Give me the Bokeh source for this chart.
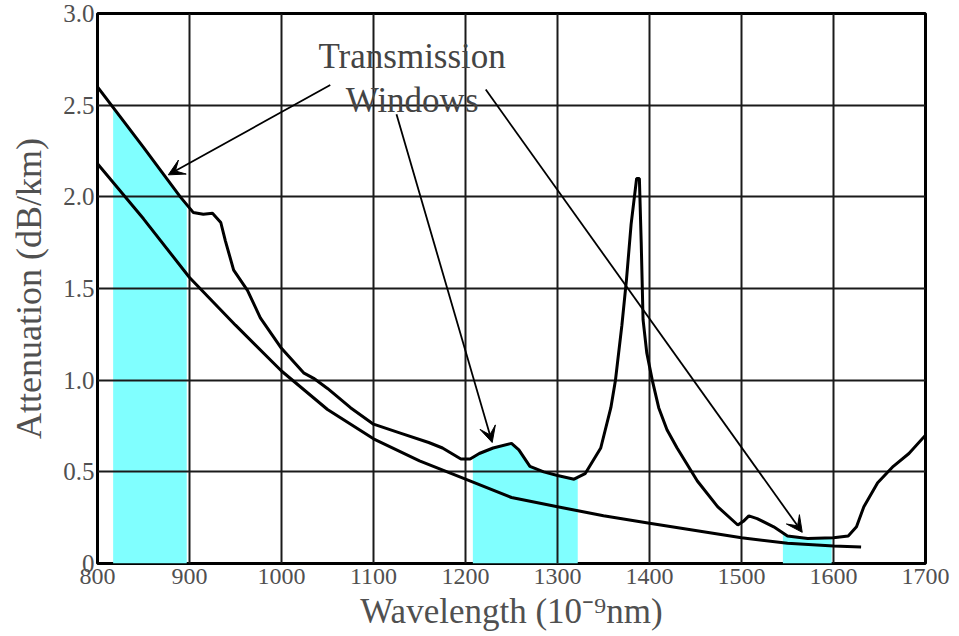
import numpy as np
from bokeh.plotting import figure
from bokeh.models import Range1d, FixedTicker, Arrow, VeeHead, ColumnDataSource
from bokeh.core.properties import value
from bokeh.embed import file_html
from bokeh.resources import INLINE

# ---- data ----
wl_measured = [800, 850, 870, 890, 904, 915, 925, 934, 939, 948, 963, 977, 999, 1024, 1035, 1050,
               1075, 1100, 1130, 1160, 1175, 1195, 1205, 1215, 1230, 1250, 1258, 1270, 1285, 1300,
               1318, 1330, 1347, 1358, 1363, 1370, 1375, 1380, 1386, 1389, 1391, 1393, 1397, 1403,
               1410, 1419, 1430, 1452, 1474, 1496, 1502, 1508, 1517, 1535, 1550, 1572, 1600, 1616,
               1625, 1633, 1648, 1665, 1682, 1700]
att_measured = [2.60, 2.27, 2.135, 2.0, 1.915, 1.905, 1.91, 1.86, 1.76, 1.60, 1.49, 1.34, 1.18, 1.04,
                1.01, 0.955, 0.85, 0.76, 0.71, 0.66, 0.63, 0.57, 0.57, 0.60, 0.63, 0.655, 0.62, 0.53,
                0.50, 0.48, 0.46, 0.49, 0.63, 0.85, 1.0, 1.3, 1.55, 1.85, 2.1, 2.1, 1.75, 1.33, 1.15,
                1.0, 0.85, 0.73, 0.63, 0.45, 0.31, 0.21, 0.23, 0.26, 0.245, 0.20, 0.15, 0.136, 0.14,
                0.15, 0.20, 0.31, 0.44, 0.53, 0.60, 0.70]

wl_theory = [800, 850, 900, 950, 1000, 1050, 1100, 1150, 1200, 1250, 1300, 1350, 1400, 1450, 1500,
             1550, 1600, 1630]
att_theory = [2.18, 1.88, 1.56, 1.30, 1.05, 0.84, 0.68, 0.56, 0.46, 0.36, 0.31, 0.26, 0.22, 0.18,
              0.14, 0.11, 0.095, 0.09]

window_lo = [817, 1208, 1545]
window_hi = [897, 1322, 1598]

x_ticks = [800, 900, 1000, 1100, 1200, 1300, 1400, 1500, 1600, 1700]
y_ticks = [0, 0.5, 1, 1.5, 2, 2.5, 3]
y_tick_labels = ["0", "0.5", "1.0", "1.5", "2.0", "2.5", "3.0"]

note_lines = ["Transmission", "Windows"]
note_x = [1142, 1142]
note_y = [2.765, 2.525]

arrow_x_start = [1053, 1125, 1222]
arrow_y_start = [2.61, 2.45, 2.585]
arrow_x_end = [877, 1229, 1566]
arrow_y_end = [2.12, 0.66, 0.17]

FONT = "Liberation Serif"
GREY = "#505050"

p = figure(width=955, height=634, x_range=Range1d(800, 1700), y_range=Range1d(0, 3),
           output_backend="svg", toolbar_location=None,
           min_border_left=97, min_border_right=30, min_border_top=13, min_border_bottom=71)

p.background_fill_color = "white"
p.border_fill_color = "white"
p.outline_line_color = "black"
p.outline_line_width = 3

p.xaxis.ticker = FixedTicker(ticks=x_ticks)
p.yaxis.ticker = FixedTicker(ticks=y_ticks)
p.xgrid.ticker = p.xaxis[0].ticker
p.ygrid.ticker = p.yaxis[0].ticker
p.yaxis.major_label_overrides = {t: lab for t, lab in zip(y_ticks, y_tick_labels)}

for ax in p.axis:
    ax.axis_line_color = None
    ax.major_tick_line_color = None
    ax.minor_tick_line_color = None
    ax.major_tick_out = 0
    ax.major_tick_in = 0
    ax.minor_tick_out = 0
    ax.minor_tick_in = 0
    ax.major_label_text_font = FONT
    ax.major_label_text_color = GREY
    ax.axis_label_text_font = FONT
    ax.axis_label_text_font_style = "normal"
    ax.axis_label_text_color = GREY

p.xaxis.major_label_text_font_size = "24px"
p.yaxis.major_label_text_font_size = "25px"
p.xaxis.axis_label = "Wavelength (10\u207b\u2079nm)"
p.yaxis.axis_label = "Attenuation (dB/km)"
p.xaxis.axis_label_text_font_size = "35px"
p.yaxis.axis_label_text_font_size = "36px"
p.xaxis.major_label_standoff = 5
p.xaxis.axis_label_standoff = 5
p.yaxis.major_label_standoff = 3
p.yaxis.axis_label_standoff = 11

for g in (p.xgrid, p.ygrid):
    g.grid_line_color = "#1a1a1a"
    g.grid_line_width = 2

# cyan transmission windows, filled up to the measured curve
for lo, hi in zip(window_lo, window_hi):
    xs = [lo] + [w for w in wl_measured if lo < w < hi] + [hi]
    ys = np.interp(xs, wl_measured, att_measured)
    p.varea(x=xs, y1=[0] * len(xs), y2=list(ys), fill_color="#80ffff", level="underlay")

p.line(wl_theory, att_theory, line_color="black", line_width=3)
p.line(wl_measured, att_measured, line_color="black", line_width=3)

p.text(x=note_x, y=note_y, text=note_lines, text_font=value(FONT), text_font_size="35px",
       text_align="center", text_baseline="alphabetic", text_color="#444444")

arrow_src = ColumnDataSource(dict(xs=arrow_x_start, ys=arrow_y_start, xe=arrow_x_end, ye=arrow_y_end))
p.add_layout(Arrow(end=VeeHead(size=16, fill_color="black", line_color="black", line_width=1),
                   x_start="xs", y_start="ys", x_end="xe", y_end="ye", source=arrow_src,
                   line_color="black", line_width=1.8))

open("out.html", "w").write(file_html(p, INLINE))
